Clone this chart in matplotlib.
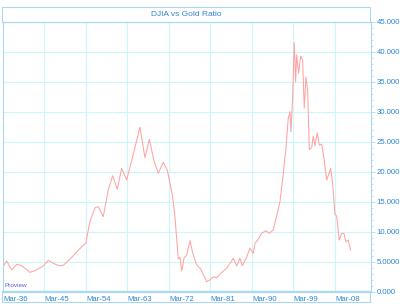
import matplotlib
matplotlib.use("Agg")
import matplotlib.pyplot as plt
from matplotlib.patches import Rectangle
from matplotlib.ticker import FixedLocator, MultipleLocator

# DJIA / gold ratio (decimal years)
years = [1936.17, 1936.97, 1938.06, 1939.14, 1940.23, 1942.03, 1943.11, 1944.91,
         1946.00, 1947.08, 1948.53, 1949.25, 1951.07, 1953.24, 1954.10, 1955.04,
         1956.12, 1956.84, 1957.92, 1959.00, 1959.96, 1960.96, 1961.91, 1963.00,
         1964.30, 1965.88, 1966.97, 1967.90, 1968.92, 1969.85, 1970.94, 1971.80,
         1972.97, 1973.47, 1974.19, 1974.56, 1974.93, 1975.43, 1976.01, 1976.73,
         1977.31, 1978.18, 1979.05, 1980.35, 1981.06, 1981.78, 1982.52, 1983.23,
         1984.69, 1985.40, 1986.12, 1986.86, 1987.57, 1988.07, 1989.03, 1989.74,
         1990.46, 1990.83, 1991.54, 1992.28, 1993.21, 1993.93, 1994.80, 1996.25,
         1996.97, 1997.55, 1998.05, 1998.42, 1998.63, 1999.00, 1999.35, 1999.65,
         1999.87, 2000.30, 2000.74, 2001.17, 2001.52, 2001.89, 2002.26, 2002.61,
         2003.13, 2003.47, 2003.84, 2004.34, 2004.78, 2005.30, 2005.80, 2006.38,
         2006.88, 2007.25, 2007.68, 2008.18, 2008.55, 2009.11, 2009.63, 2010.13,
         2010.56, 2011.06, 2011.58]
ratio = [4.17, 5.12, 3.62, 4.57, 4.33, 3.23, 3.50, 4.28,
         5.23, 4.73, 4.28, 4.40, 5.73, 7.50, 8.07, 11.7,
         14.0, 14.17, 12.5, 16.95, 19.33, 17.07, 20.57, 18.62,
         22.5, 27.4, 22.33, 25.4, 21.83, 19.73, 21.57, 20.28,
         15.83, 12.5, 5.45, 5.73, 3.45, 5.57, 6.12, 8.5,
         6.5, 4.45, 3.78, 1.67, 1.95, 2.5, 2.33, 2.95,
         3.9, 4.73, 5.57, 4.28, 5.57, 4.33, 5.73, 7.28,
         6.4, 8.07, 8.73, 9.73, 10.17, 9.73, 10.28, 15.0,
         19.72, 23.9, 28.9, 30.0, 26.67, 32.5, 41.5, 35.0,
         39.5, 36.4, 39.28, 38.6, 30.6, 35.8, 33.5, 23.7,
         24.0, 25.9, 24.3, 26.5, 24.45, 24.6, 22.2, 18.6,
         19.7, 20.6, 18.0, 12.9, 12.6, 8.6, 9.7, 9.7,
         8.3, 8.6, 6.95]

x_ticks = [1936.17 + 9 * i for i in range(9)]
x_labels = ["Mar-36", "Mar-45", "Mar-54", "Mar-63", "Mar-72",
            "Mar-81", "Mar-90", "Mar-99", "Mar-08"]
y_ticks = [0, 5, 10, 15, 20, 25, 30, 35, 40, 45]
y_labels = ["0.000", "5.0000", "10.000", "15.000", "20.000",
            "25.000", "30.000", "35.000", "40.000", "45.000"]

plt.rcParams['font.family'] = ['Liberation Sans', 'DejaVu Sans']
W, H = 400, 306
frame = '#a9d8f2'
blue = '#2f86d0'

fig = plt.figure(figsize=(W / 100, H / 100), dpi=100)
ax = fig.add_axes([3 / W, 1 - 291.7 / H, 368 / W, 270 / H])

ax.plot(years, ratio, color='#ffa3a3', lw=0.75)

ax.set_xlim(1936.17, 2016.0)
ax.set_ylim(0, 45)

ax.xaxis.set_major_locator(FixedLocator(x_ticks))
ax.set_xticklabels(x_labels)
ax.yaxis.set_major_locator(FixedLocator(y_ticks))
ax.yaxis.set_minor_locator(MultipleLocator(1))
ax.set_yticklabels(y_labels)
ax.yaxis.tick_right()

ax.grid(True, which='major', color='#cbf6fa', lw=0.8)
ax.tick_params(axis='x', length=0, pad=3, labelsize=5.6, labelcolor=blue)
for lab in ax.get_xticklabels():
    lab.set_ha('left')
ax.tick_params(axis='y', which='major', length=3, width=0.6, color=frame,
               pad=1, labelsize=5.6, labelcolor=blue)
ax.tick_params(axis='y', which='minor', length=1.5, width=0.5, color=frame)

for side in ['left', 'right', 'top']:
    ax.spines[side].set_color(frame)
    ax.spines[side].set_linewidth(0.8)
ax.spines['bottom'].set_color(frame)
ax.spines['bottom'].set_linewidth(1.6)

# title box and x label band
fig.patches.append(Rectangle((2 / W, 1 - 22 / H), 368 / W, 15 / H,
                             transform=fig.transFigure, fill=False,
                             edgecolor=frame, lw=0.8))
fig.patches.append(Rectangle((2 / W, 1 - 302 / H), 368 / W, 11 / H,
                             transform=fig.transFigure, fill=False,
                             edgecolor=frame, lw=0.8))
fig.text(186 / W, 1 - 14.5 / H, "DJIA vs Gold Ratio", ha='center', va='center',
         fontsize=6, color=blue)
ax.text(0.003, 0.012, "Proview", transform=ax.transAxes, fontsize=4.6,
        color='#5a5ae6', ha='left', va='bottom')

fig.savefig("out.png", dpi=100)
